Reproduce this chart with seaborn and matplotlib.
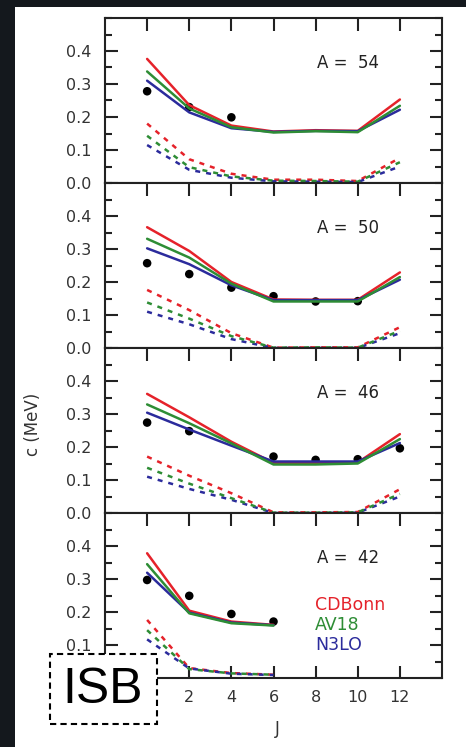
import numpy as np
import pandas as pd
import matplotlib
matplotlib.use("Agg")
import matplotlib.pyplot as plt
from matplotlib.patches import Rectangle
from matplotlib.ticker import FixedLocator, MultipleLocator, FixedFormatter
import seaborn as sns

# J values
J_FULL = [0, 2, 4, 6, 8, 10, 12]
J_42 = [0, 2, 4, 6]

# solid lines (total c)
cdbonn_54 = [0.376, 0.236, 0.174, 0.156, 0.160, 0.158, 0.253]
av18_54 = [0.338, 0.226, 0.169, 0.153, 0.157, 0.154, 0.234]
n3lo_54 = [0.310, 0.214, 0.166, 0.155, 0.158, 0.157, 0.222]
cdbonn_50 = [0.366, 0.294, 0.200, 0.147, 0.146, 0.146, 0.229]
av18_50 = [0.331, 0.274, 0.195, 0.141, 0.141, 0.141, 0.215]
n3lo_50 = [0.302, 0.254, 0.190, 0.145, 0.145, 0.145, 0.207]
cdbonn_46 = [0.361, 0.290, 0.216, 0.152, 0.151, 0.153, 0.239]
av18_46 = [0.329, 0.272, 0.211, 0.147, 0.147, 0.150, 0.224]
n3lo_46 = [0.304, 0.253, 0.204, 0.156, 0.156, 0.156, 0.212]
cdbonn_42 = [0.378, 0.204, 0.171, 0.161]
av18_42 = [0.345, 0.196, 0.166, 0.159]
n3lo_42 = [0.319, 0.198, 0.168, 0.160]

# dashed lines (ISB part)
cdbonn_isb_54 = [0.180, 0.072, 0.028, 0.010, 0.010, 0.006, 0.076]
av18_isb_54 = [0.143, 0.048, 0.020, 0.007, 0.006, 0.004, 0.063]
n3lo_isb_54 = [0.115, 0.040, 0.016, 0.005, 0.004, 0.003, 0.050]
cdbonn_isb_50 = [0.176, 0.115, 0.045, 0.001, 0.002, 0.002, 0.063]
av18_isb_50 = [0.138, 0.089, 0.036, 0.001, 0.002, 0.001, 0.052]
n3lo_isb_50 = [0.110, 0.072, 0.027, 0.000, 0.000, 0.000, 0.045]
cdbonn_isb_46 = [0.171, 0.113, 0.060, 0.002, 0.002, 0.003, 0.072]
av18_isb_46 = [0.137, 0.089, 0.045, 0.001, 0.001, 0.002, 0.058]
n3lo_isb_46 = [0.110, 0.073, 0.040, 0.000, 0.000, 0.001, 0.050]
cdbonn_isb_42 = [0.176, 0.030, 0.015, 0.010]
av18_isb_42 = [0.145, 0.027, 0.014, 0.010]
n3lo_isb_42 = [0.117, 0.029, 0.013, 0.009]

# experiment (dots)
exp_J_54 = [0, 2, 4]
exp_c_54 = [0.278, 0.230, 0.199]
exp_J_50 = [0, 2, 4, 6, 8, 10]
exp_c_50 = [0.257, 0.224, 0.183, 0.157, 0.141, 0.142]
exp_J_46 = [0, 2, 6, 8, 10, 12]
exp_c_46 = [0.274, 0.248, 0.171, 0.161, 0.163, 0.196]
exp_J_42 = [0, 2, 4, 6]
exp_c_42 = [0.297, 0.249, 0.194, 0.171]

MASSES = [54, 50, 46, 42]
MODELS = ["CDBonn", "N3LO", "AV18"]
LEGEND_NAMES = ["CDBonn", "AV18", "N3LO"]
Y_TICKS = [0.0, 0.1, 0.2, 0.3, 0.4]
Y_LABELS = ["0.0", "0.1", "0.2", "0.3", "0.4"]
X_LABELS = ["", "2", "4", "6", "8", "10", "12"]  # the "0" sits under the ISB box

series = {
    54: (J_FULL, [cdbonn_54, n3lo_54, av18_54], [cdbonn_isb_54, n3lo_isb_54, av18_isb_54], exp_J_54, exp_c_54),
    50: (J_FULL, [cdbonn_50, n3lo_50, av18_50], [cdbonn_isb_50, n3lo_isb_50, av18_isb_50], exp_J_50, exp_c_50),
    46: (J_FULL, [cdbonn_46, n3lo_46, av18_46], [cdbonn_isb_46, n3lo_isb_46, av18_isb_46], exp_J_46, exp_c_46),
    42: (J_42, [cdbonn_42, n3lo_42, av18_42], [cdbonn_isb_42, n3lo_isb_42, av18_isb_42], exp_J_42, exp_c_42),
}

rows = []
for A, (js, tot, isb, _, _) in series.items():
    for model, t, d in zip(MODELS, tot, isb):
        for j, v in zip(js, t):
            rows.append((A, model, "total", j, v))
        for j, v in zip(js, d):
            rows.append((A, model, "isb", j, v))
df = pd.DataFrame(rows, columns=["A", "model", "part", "J", "c"])

sns.set_theme(style="ticks")
plt.rcParams["font.family"] = ["DejaVu Sans"]

palette = {"CDBonn": "#e5222a", "AV18": "#2e8d35", "N3LO": "#2b2b9c"}
ink = "#222222"

W, H = 466, 747
fig = plt.figure(figsize=(W / 100, H / 100), dpi=100)
fig.patch.set_facecolor("#14181d")
fig.add_artist(Rectangle((15 / W, 0), 1 - 15 / W, 740 / H, transform=fig.transFigure,
                         fc="white", ec="none", zorder=-10))

ax_h = 165 / H
ax_bottom0 = (H - 678) / H
for i, A in enumerate(MASSES):
    ax = fig.add_axes([105 / W, ax_bottom0 + (3 - i) * ax_h, 337 / W, ax_h])
    ax.set_facecolor("white")
    sub = df[df["A"] == A]
    js, tot, isb, ej, ec = series[A]

    sns.scatterplot(x=ej, y=ec, color="black", s=38, edgecolor="none", ax=ax, zorder=1)
    sns.lineplot(data=sub, x="J", y="c", hue="model", style="part",
                 hue_order=MODELS, style_order=["total", "isb"],
                 palette=palette, dashes={"total": "", "isb": (2.0, 2.4)},
                 lw=1.8, errorbar=None, legend=False, ax=ax, zorder=2)

    ax.set_xlim(-2, 14)
    ax.set_ylim(0, 0.5)
    ax.set_xlabel("")
    ax.set_ylabel("")
    ax.xaxis.set_major_locator(FixedLocator(J_FULL))
    ax.xaxis.set_major_formatter(FixedFormatter(X_LABELS))
    ax.yaxis.set_major_locator(FixedLocator(Y_TICKS))
    ylabs = list(Y_LABELS)
    if i == 3:
        ylabs[0] = ""  # hidden under the ISB box
    ax.yaxis.set_major_formatter(FixedFormatter(ylabs))
    ax.yaxis.set_minor_locator(MultipleLocator(0.05))
    ax.tick_params(which="both", direction="in", top=True, right=True,
                   bottom=(i == 3), labelbottom=(i == 3), color=ink, width=1.5)
    ax.tick_params(which="major", length=9, labelsize=11.5, labelcolor="#333333")
    ax.tick_params(axis="y", which="major", pad=10)
    ax.tick_params(axis="x", which="major", pad=9)
    ax.tick_params(which="minor", length=5)
    for s in ax.spines.values():
        s.set_linewidth(1.5)
        s.set_color(ink)

    ax.text(0.63, 0.73, f"A =  {A}", transform=ax.transAxes, fontsize=12,
            color="#222222", va="center", ha="left")

    if A == 42:
        for name, yy in zip(LEGEND_NAMES, [0.442, 0.321, 0.200]):
            ax.text(0.623, yy, name, transform=ax.transAxes, fontsize=12.5,
                    color=palette[name], va="center", ha="left")

fig.text(33 / W, 1 - 424 / H, "c (MeV)", rotation=90, fontsize=12,
         color="#333333", ha="center", va="center")
fig.text(277 / W, 1 - 729 / H, "J", fontsize=12, color="#333333",
         ha="center", va="center")

# ISB box over the corner
fig.add_artist(Rectangle((50 / W, 1 - 724 / H), 107 / W, 70 / H, transform=fig.transFigure,
                         fc="white", ec="black", lw=1.5, ls=(0, (3, 2)), zorder=10))
fig.text(103 / W, 1 - 690 / H, "ISB", fontsize=36, color="black",
         family=["Liberation Sans", "DejaVu Sans"], ha="center", va="center", zorder=11)

fig.savefig("out.png", dpi=100, facecolor=fig.get_facecolor())
